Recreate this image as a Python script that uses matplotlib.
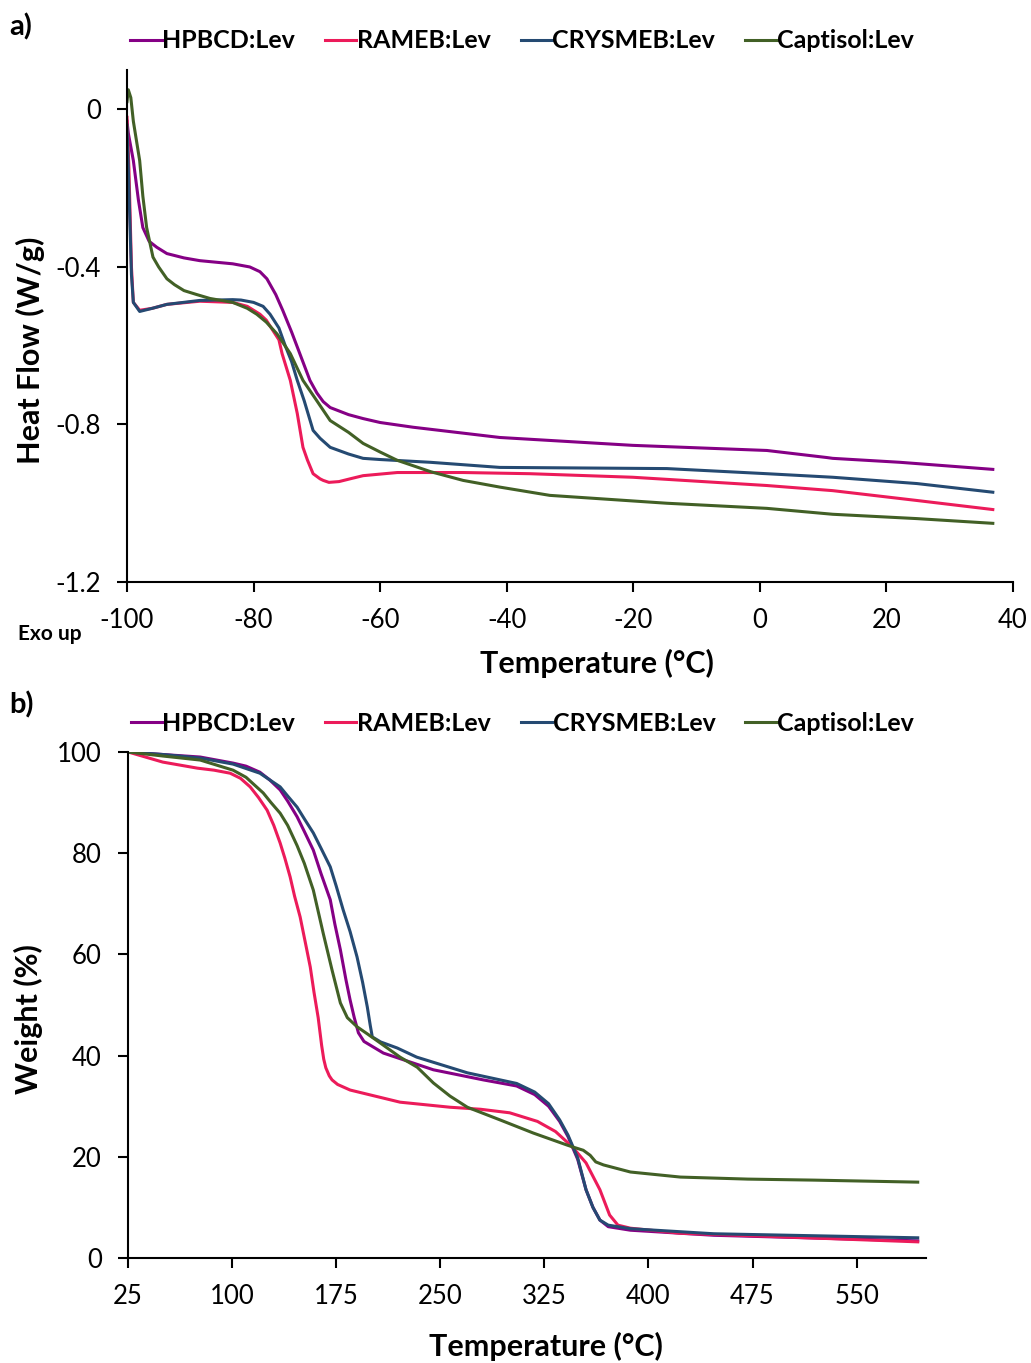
import matplotlib
matplotlib.use("Agg")
import matplotlib.pyplot as plt

plt.rcParams['font.family'] = ['Lato', 'DejaVu Sans']

names = ["HPBCD:Lev", "RAMEB:Lev", "CRYSMEB:Lev", "Captisol:Lev"]
colors = ["#850085", "#EC1B5A", "#254A72", "#426026"]

# a) DSC, heat flow vs temperature
dsc_t_hpbcd = [-100, -99.8, -99, -98.2, -97.5, -96.5, -95.3, -93.7, -91, -88.5, -83.3, -80.6, -79,
               -77.9, -76.5, -75.4, -74, -72.7, -71.1, -70, -69, -67.9, -65, -62.7, -60, -54.8, -41.1,
               -20.1, 1.1, 10.6, 11.5, 22.1, 36.8]
dsc_hf_hpbcd = [-0.03, -0.06, -0.13, -0.23, -0.30, -0.335, -0.35, -0.366, -0.377, -0.384, -0.392, -0.40,
                -0.412, -0.43, -0.47, -0.51, -0.565, -0.62, -0.688, -0.72, -0.742, -0.757, -0.775,
                -0.785, -0.795, -0.807, -0.833, -0.853, -0.866, -0.884, -0.886, -0.896, -0.914]

dsc_t_rameb = [-100, -99.7, -99.3, -99, -98, -96, -93.7, -88.5, -83.3, -81, -79, -78, -77, -76, -75.5,
               -74.2, -73.1, -72.2, -71.5, -70.6, -69.5, -69, -68.1, -66.5, -64.5, -62.7, -57.3, -46.9,
               -36.3, -20.1, 1.1, 11.5, 24.8, 36.8]
dsc_hf_rameb = [-0.02, -0.15, -0.40, -0.49, -0.51, -0.505, -0.495, -0.487, -0.49, -0.50, -0.52, -0.535,
                -0.56, -0.585, -0.62, -0.688, -0.772, -0.858, -0.89, -0.925, -0.938, -0.942, -0.947,
                -0.945, -0.937, -0.93, -0.922, -0.922, -0.925, -0.934, -0.955, -0.968, -0.993, -1.016]

dsc_t_crysmeb = [-100, -99.7, -99.3, -99, -98, -96, -93.7, -88.5, -83.3, -82, -80, -78.5, -77.4, -76,
                 -75, -74, -73.1, -72, -70.6, -69.5, -67.9, -65, -62.7, -60, -52.1, -41.1, -14.7, 1.1,
                 11.5, 24.8, 36.8]
dsc_hf_crysmeb = [-0.04, -0.2, -0.42, -0.49, -0.513, -0.505, -0.495, -0.485, -0.483, -0.484, -0.49,
                  -0.50, -0.52, -0.555, -0.60, -0.64, -0.688, -0.74, -0.815, -0.835, -0.858, -0.875,
                  -0.886, -0.889, -0.896, -0.909, -0.912, -0.925, -0.934, -0.95, -0.972]

dsc_t_captisol = [-100, -99.8, -99.4, -99, -98, -97.5, -96.9, -95.9, -95, -93.7, -92.5, -91, -89,
                  -86.9, -83.3, -81, -79.5, -78, -76.3, -74.2, -72.2, -70, -67.9, -65, -62.7, -60, -57.3,
                  -52, -46.9, -41.1, -33.2, -14.7, 1.1, 11.5, 24.8, 36.8]
dsc_hf_captisol = [0.02, 0.05, 0.03, -0.03, -0.13, -0.22, -0.30, -0.375, -0.40, -0.43, -0.445, -0.46,
                   -0.47, -0.48, -0.49, -0.505, -0.52, -0.54, -0.57, -0.62, -0.688, -0.74, -0.79, -0.82,
                   -0.848, -0.87, -0.891, -0.92, -0.942, -0.959, -0.98, -1.0, -1.013, -1.028, -1.039,
                   -1.051]

# b) TGA, weight vs temperature
tga_t_hpbcd = [25, 50, 77, 100.7, 110, 120, 127, 134.6, 140, 146.8, 152, 158.5, 164, 170.7, 174, 178,
               182, 185, 188, 191, 195, 201.7, 209, 245, 281, 305, 318, 328, 336, 342, 349, 355, 360,
               365, 371, 387, 447, 594]
tga_w_hpbcd = [100, 99.5, 99, 97.8, 97.2, 96, 94.5, 92.5, 90.3, 87.2, 84.3, 80.6, 76, 70.8, 66, 60.9,
               55, 51, 47.5, 44.5, 42.8, 41.7, 40.5, 37.2, 35.2, 34, 32.3, 30, 27, 24, 19.5, 13.5, 10,
               7.5, 6.2, 5.5, 4.5, 3.4]

tga_t_rameb = [25, 50, 75, 87, 98.6, 106, 113, 119, 125.2, 130, 134.6, 138, 141.8, 145, 149, 153, 156.3,
               159, 162, 164.5, 166, 167.5, 170, 172, 176, 185, 221, 257, 279, 300, 320, 333, 345, 355,
               365, 372, 378, 387, 423, 495, 594]
tga_w_rameb = [100, 98, 96.8, 96.4, 95.8, 94.8, 93.1, 91, 88.5, 85.5, 82, 79, 75.3, 71.5, 67.4, 62,
               57.5, 52.5, 47.5, 42, 39.3, 37.6, 36, 35.2, 34.3, 33.2, 30.8, 29.8, 29.4, 28.7, 27, 25,
               22, 18.8, 13.5, 8.5, 6.5, 5.9, 4.9, 4.2, 3.2]

tga_t_crysmeb = [25, 50, 77, 100.7, 120, 134.6, 140, 146.8, 152, 158.5, 164, 170.7, 175, 180, 185, 190,
                 194, 197.4, 199.5, 201, 207, 219, 233, 269.5, 305, 318, 328, 336, 342, 349, 355, 360,
                 365, 371, 387, 447, 594]
tga_w_crysmeb = [100, 99.5, 98.8, 97.6, 95.8, 93.1, 91.3, 89.1, 86.8, 84, 81, 77.3, 73.5, 68.8, 64.5,
                 59.5, 54.5, 49.6, 46, 43.7, 42.7, 41.5, 39.7, 36.6, 34.5, 32.8, 30.5, 27.3, 24.3, 19.8,
                 13.5, 10, 7.5, 6.5, 5.8, 4.8, 4.0]

tga_t_captisol = [25, 50, 77, 100.7, 110, 122.4, 128, 134.6, 140, 146.8, 152, 158.5, 165.6, 172, 178,
                  183, 190, 197.4, 206.7, 221, 233.4, 245, 257, 269.5, 293, 317, 341.6, 346, 353, 358,
                  362, 367.6, 387, 423, 471.5, 519, 594]
tga_w_captisol = [100, 99.2, 98.4, 96.4, 95, 91.9, 90, 87.9, 85.5, 81.5, 78, 72.7, 64.2, 56.9, 50.4,
                  47.5, 45.7, 44.3, 42.5, 39.7, 37.7, 34.6, 32, 29.8, 27.3, 24.7, 22.3, 21.9, 21.3, 20.3,
                  19, 18.4, 17, 16, 15.6, 15.4, 15]

dsc = [(dsc_t_hpbcd, dsc_hf_hpbcd), (dsc_t_rameb, dsc_hf_rameb),
       (dsc_t_crysmeb, dsc_hf_crysmeb), (dsc_t_captisol, dsc_hf_captisol)]
tga = [(tga_t_hpbcd, tga_w_hpbcd), (tga_t_rameb, tga_w_rameb),
       (tga_t_crysmeb, tga_w_crysmeb), (tga_t_captisol, tga_w_captisol)]

fig = plt.figure(figsize=(10.31, 13.63), dpi=100)
ax1 = fig.add_axes([0.1232, 0.573, 0.8594, 0.3756])
ax2 = fig.add_axes([0.1242, 0.077, 0.7740, 0.3713])


def style(ax):
    for s in ["top", "right"]:
        ax.spines[s].set_visible(False)
    for s in ["left", "bottom"]:
        ax.spines[s].set_linewidth(1.5)
    ax.tick_params(direction="out", length=7, width=1.5, labelsize=18.5, pad=12)


legend_kw = dict(loc="center", ncol=4, frameon=False, prop={"size": 18, "weight": "bold"},
                 handlelength=1.25, handletextpad=0.02, columnspacing=1.2)

for (t, v), name, c in zip(dsc, names, colors):
    ax1.plot(t, v, color=c, lw=2.2, label=name)
ax1.set_xlim(-100, 40)
ax1.set_ylim(-1.2, 0.1)
ax1.set_xticks(range(-100, 41, 20))
ax1.set_yticks([0, -0.4, -0.8, -1.2])
ax1.set_yticklabels(["0", "-0.4", "-0.8", "-1.2"])
ax1.set_xticklabels([str(x) for x in range(-100, 41, 20)])
style(ax1)
ax1.set_xlabel("Temperature (°C)", fontsize=22, fontweight="bold")
ax1.set_ylabel("Heat Flow (W/g)", fontsize=22, fontweight="bold")
ax1.xaxis.set_label_coords(0.530, -0.131)
ax1.yaxis.set_label_coords(-0.093, 0.453)
ax1.legend(bbox_to_anchor=(0.446, 1.057), **legend_kw)

for (t, v), name, c in zip(tga, names, colors):
    ax2.plot(t, v, color=c, lw=2.2, label=name)
ax2.set_xlim(25, 600)
ax2.set_ylim(0, 100)
ax2.set_xticks(range(25, 600, 75))
ax2.set_yticks(range(0, 101, 20))
style(ax2)
ax2.set_xlabel("Temperature (°C)", fontsize=22, fontweight="bold")
ax2.set_ylabel("Weight (%)", fontsize=22, fontweight="bold")
ax2.xaxis.set_label_coords(0.524, -0.146)
ax2.yaxis.set_label_coords(-0.107, 0.472)
ax2.legend(bbox_to_anchor=(0.494, 1.057), **legend_kw)

fig.text(0.009, 0.98, "a)", fontsize=21, fontweight="bold", va="center")
fig.text(0.009, 0.483, "b)", fontsize=21, fontweight="bold", va="center")
fig.text(0.017, 0.535, "Exo up", fontsize=15, fontweight="bold", va="center")

fig.savefig("out.png", dpi=100)
